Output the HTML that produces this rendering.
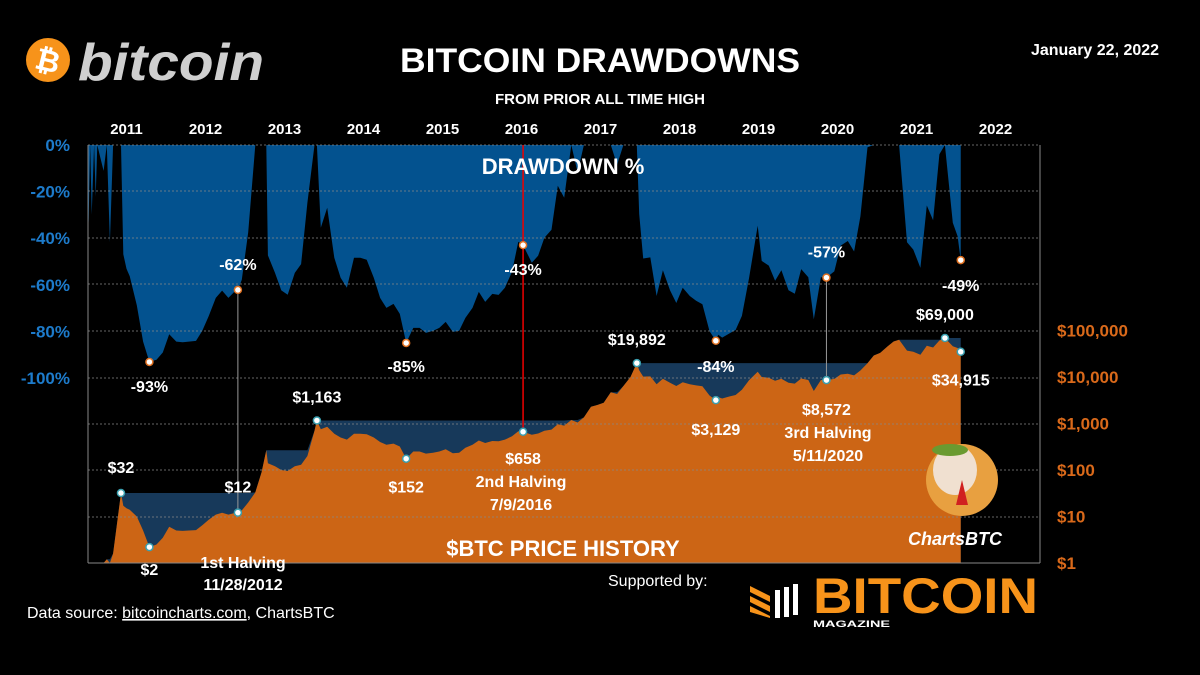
<!DOCTYPE html>
<html><head><meta charset="utf-8">
<style>
body{margin:0;background:#000;width:1200px;height:675px;overflow:hidden;font-family:"Liberation Sans",sans-serif;}
svg{display:block}
text{font-family:"Liberation Sans",sans-serif;font-weight:bold}
</style></head>
<body>
<svg id="chart" width="1200" height="675" viewBox="0 0 1200 675">
<defs><clipPath id="plotclip"><rect x="88" y="140" width="952" height="430"/></clipPath></defs>
<g id="marks" clip-path="url(#plotclip)"></g>
<g id="over"></g>
</svg>
<script>
// ---- data: date (decimal year) and BTC price ----
const dates = [2010.55,2010.58,2010.62,2010.66,2010.70,2010.75,2010.79,2010.84,2010.88,2010.92,2010.96,
2011.00,2011.02,2011.04,2011.06,2011.09,2011.11,2011.13,2011.17,2011.21,2011.25,2011.29,2011.33,2011.38,2011.43,2011.46,2011.50,2011.54,2011.63,2011.71,2011.79,2011.88,2011.96,
2012.04,2012.13,2012.21,2012.29,2012.38,2012.46,2012.54,2012.63,2012.71,2012.79,2012.88,2012.91,2012.96,
2013.04,2013.13,2013.21,2013.27,2013.29,2013.38,2013.46,2013.54,2013.63,2013.71,2013.79,2013.88,2013.91,2013.96,
2014.04,2014.13,2014.21,2014.29,2014.38,2014.46,2014.54,2014.63,2014.71,2014.79,2014.88,2014.96,
2015.04,2015.13,2015.21,2015.29,2015.38,2015.46,2015.54,2015.63,2015.71,2015.79,2015.88,2015.96,
2016.04,2016.13,2016.21,2016.29,2016.38,2016.46,2016.52,2016.63,2016.71,2016.79,2016.88,2016.96,
2017.04,2017.13,2017.21,2017.29,2017.38,2017.46,2017.54,2017.63,2017.71,2017.79,2017.88,2017.96,2017.99,
2018.04,2018.13,2018.21,2018.29,2018.38,2018.46,2018.54,2018.63,2018.71,2018.79,2018.88,2018.96,2018.99,
2019.04,2019.13,2019.21,2019.29,2019.38,2019.49,2019.54,2019.63,2019.71,2019.79,2019.88,2019.96,
2020.04,2020.13,2020.20,2020.29,2020.36,2020.46,2020.54,2020.63,2020.71,2020.79,2020.88,2020.96,
2021.04,2021.13,2021.21,2021.28,2021.38,2021.46,2021.55,2021.63,2021.71,2021.79,2021.86,2021.96,
2022.02,2022.06];
const prices = [0.08,0.05,0.07,0.045,0.065,0.06,0.1,0.09,0.25,0.2,0.3,
0.3,0.2,0.4,0.28,0.9,0.7,0.9,0.85,0.8,1.2,0.7,1.6,7,32,17,15,14,10,5,2.2,2.5,3.5,
6,5,4.9,5,5.1,6.5,8.5,11,12,11,12,12.1,13.5,
20,33,90,266,140,120,100,95,120,130,200,700,1163,750,
850,600,500,450,600,600,590,500,400,350,370,320,
175,250,250,225,235,250,280,230,235,300,350,430,
380,420,415,450,530,680,663,575,610,700,740,960,
900,1190,1050,1350,2300,2500,2800,4700,4300,6400,10000,19892,14000,
10200,10300,7000,9200,7500,6400,7700,7000,6600,6300,4000,3180,3700,
3450,3800,4100,5300,8500,13000,10000,9600,8300,9200,7500,7200,
9300,8600,5000,8600,8572,9100,11300,11700,10800,13800,19700,29000,
33000,45000,58000,63500,37000,35000,30000,47000,43000,61000,69000,46000,
42000,34915];
const yearLabels = ["2011","2012","2013","2014","2015","2016","2017","2018","2019","2020","2021","2022"];
const ddTicks = [0,-20,-40,-60,-80,-100];
const priceTicks = [1,10,100,1000,10000,100000];
const ddMarkDates = [2011.79,2012.91,2015.04,2016.52,2018.96,2020.36,2022.06];
const ddMarkLabels = ["-93%","-62%","-85%","-43%","-84%","-57%","-49%"];
const priceMarkDates = [2011.43,2011.79,2012.91,2013.91,2015.04,2016.52,2017.96,2018.96,2020.36,2021.86,2022.06];
const priceMarkLabels = ["$32","$2","$12","$1,163","$152","$658","$19,892","$3,129","$8,572","$69,000","$34,915"];

const NS="http://www.w3.org/2000/svg";
const marks=document.getElementById('marks'), over=document.getElementById('over');
const X=t=>87+(t-2011)*79;
const YD=d=>145-d*233/100;
const YP=p=>Math.min(563,563-Math.log10(p)*46.5);
function el(tag,attrs,parent,txt){const e=document.createElementNS(NS,tag);for(const k in attrs)e.setAttribute(k,attrs[k]);if(txt!==undefined)e.textContent=txt;(parent||marks).appendChild(e);return e;}

const ath=[];let m=0;prices.forEach(p=>{m=Math.max(m,p);ath.push(m);});
const dd=prices.map((p,i)=>(p/ath[i]-1)*100);
const idxOf=t=>dates.findIndex(d=>Math.abs(d-t)<1e-6);
const last=dates.length-1;

let pts=`M${X(dates[0])},145 `+dates.map((t,i)=>`L${X(t).toFixed(1)},${YD(dd[i]).toFixed(1)}`).join(' ')+` L${X(dates[last])},145 Z`;
let a=el('path',{d:pts,fill:'#03528f'});



let ap=`M${X(dates[0])},563 `+dates.map((t,i)=>`L${X(t).toFixed(1)},${YP(ath[i]).toFixed(1)}`).join(' ')+` L${X(dates[last])},563 Z`;
let a2=el('path',{d:ap,fill:'#17395a'});


let pp=`M${X(dates[0])},563 `+dates.map((t,i)=>`L${X(t).toFixed(1)},${YP(prices[i]).toFixed(1)}`).join(' ')+` L${X(dates[last])},563 Z`;
let a3=el('path',{d:pp,fill:'#cc6515'});



[191,238,284,331,378,424,470,517].forEach(y=>{
 const g=el('line',{x1:88,x2:1040,y1:y,y2:y,stroke:'#888','stroke-width':0.8,'stroke-dasharray':'2,2'},over);
 
 
});
el('line',{x1:88,x2:1040,y1:145,y2:145,stroke:'#888','stroke-width':0.8,'stroke-dasharray':'2,2'},over);
el('line',{x1:88,x2:88,y1:145,y2:563,stroke:'#888','stroke-width':1},over);
el('line',{x1:1040,x2:1040,y1:145,y2:563,stroke:'#888','stroke-width':1},over);
el('line',{x1:88,x2:1040,y1:563,y2:563,stroke:'#888','stroke-width':1},over);

el('line',{x1:X(2012.91),x2:X(2012.91),y1:288,y2:513,stroke:'#999','stroke-width':1},over);
el('line',{x1:X(2016.52),x2:X(2016.52),y1:145,y2:432,stroke:'#e00','stroke-width':1.5},over);
el('line',{x1:X(2020.36),x2:X(2020.36),y1:277,y2:380,stroke:'#999','stroke-width':1},over);

yearLabels.forEach((y,i)=>{const t=el('text',{x:X(2011.5+i),y:134,fill:'#fff','font-size':15,'text-anchor':'middle'},over,y);
 });
ddTicks.forEach(d=>{const t=el('text',{x:70,y:YD(d)+6,fill:'#1d7bcb','font-size':17,'text-anchor':'end'},over,d+'%');
 });
priceTicks.forEach(p=>{const t=el('text',{x:1057,y:YP(p)+6,fill:'#d9691a','font-size':17},over,'$'+p.toLocaleString('en-US'));
 });

const ddOff=[30,-20,29,30,31,-20,31];
ddMarkDates.forEach((t,k)=>{const i=idxOf(t);const x=X(t),y=YD(dd[i]);
 const c=el('circle',{cx:x,cy:y,r:3.5,fill:'#fff',stroke:'#e07020','stroke-width':1.5},over);
 
 el('text',{x:x,y:y+ddOff[k],fill:'#fff','font-size':16,'text-anchor':'middle'},over,ddMarkLabels[k]);});
const pOff=[-20,28,-20,-18,34,32,-18,35,35,-18,34];
priceMarkDates.forEach((t,k)=>{const i=idxOf(t);const x=X(t),y=YP(prices[i]);
 const c=el('circle',{cx:x,cy:y,r:3.5,fill:'#fff',stroke:'#3aa0b0','stroke-width':1.5},over);
 
 el('text',{x:x,y:y+pOff[k],fill:'#fff','font-size':16,'text-anchor':'middle'},over,priceMarkLabels[k]);});
</script>
<div style="position:absolute;left:0;top:0;width:1200px;height:675px;pointer-events:none">
<svg width="1200" height="675" style="position:absolute;left:0;top:0">
 <g>
  <circle cx="48" cy="60" r="22" fill="#f7931a"/>
  <text x="48" y="71" fill="#fff" font-size="30" text-anchor="middle" transform="rotate(14 48 60)">₿</text>
  <text x="78" y="80" fill="#cfcfcf" font-size="52" font-style="italic" textLength="186" lengthAdjust="spacingAndGlyphs">bitcoin</text>
 </g>
 <text x="600" y="72" fill="#fff" font-size="34" text-anchor="middle" textLength="400" lengthAdjust="spacingAndGlyphs">BITCOIN DRAWDOWNS</text>
 <text x="600" y="104" fill="#fff" font-size="15" text-anchor="middle">FROM PRIOR ALL TIME HIGH</text>
 <text x="1095" y="55" fill="#fff" font-size="16" text-anchor="middle">January 22, 2022</text>
 <text x="563" y="174" fill="#fff" font-size="22" text-anchor="middle">DRAWDOWN %</text>
 <text x="563" y="556" fill="#fff" font-size="22" text-anchor="middle">$BTC PRICE HISTORY</text>
 <g fill="#fff" font-size="16" text-anchor="middle">
  <text x="243" y="568">1st Halving</text><text x="243" y="590">11/28/2012</text>
  <text x="521" y="487">2nd Halving</text><text x="521" y="510">7/9/2016</text>
  <text x="828" y="438">3rd Halving</text><text x="828" y="461">5/11/2020</text>
 </g>
 <text x="27" y="618" fill="#fff" font-size="16" style="font-weight:normal">Data source: <tspan text-decoration="underline">bitcoincharts.com</tspan>, ChartsBTC</text>
 <text x="608" y="586" fill="#fff" font-size="16" style="font-weight:normal">Supported by:</text>
 <g>
  <polygon points="750,586 770,596 770,602 750,592" fill="#f7931a"/>
  <polygon points="750,596 770,606 770,612 750,602" fill="#f7931a"/>
  <polygon points="750,606 770,616 770,618 750,612" fill="#f7931a"/>
  <rect x="775" y="590" width="5" height="28" fill="#fff"/><rect x="784" y="587" width="5" height="30" fill="#fff"/><rect x="793" y="584" width="5" height="31" fill="#fff"/>
  <text x="813" y="613" fill="#f7931a" font-size="50" textLength="225" lengthAdjust="spacingAndGlyphs">BITCOIN</text>
  <text x="813" y="627" fill="#fff" font-size="9" textLength="77" lengthAdjust="spacingAndGlyphs">MAGAZINE</text>
 </g>
 <g>
  <circle cx="962" cy="480" r="36" fill="#e8a040"/>
  <ellipse cx="955" cy="470" rx="22" ry="25" fill="#f0e0d0"/>
  <ellipse cx="950" cy="450" rx="18" ry="6" fill="#6a9a30"/>
  <polygon points="962,480 968,505 956,505" fill="#d02020"/>
  <text x="955" y="545" fill="#fff" font-size="18" font-style="italic" text-anchor="middle">ChartsBTC</text>
 </g>
</svg>
</div>
</body></html>
